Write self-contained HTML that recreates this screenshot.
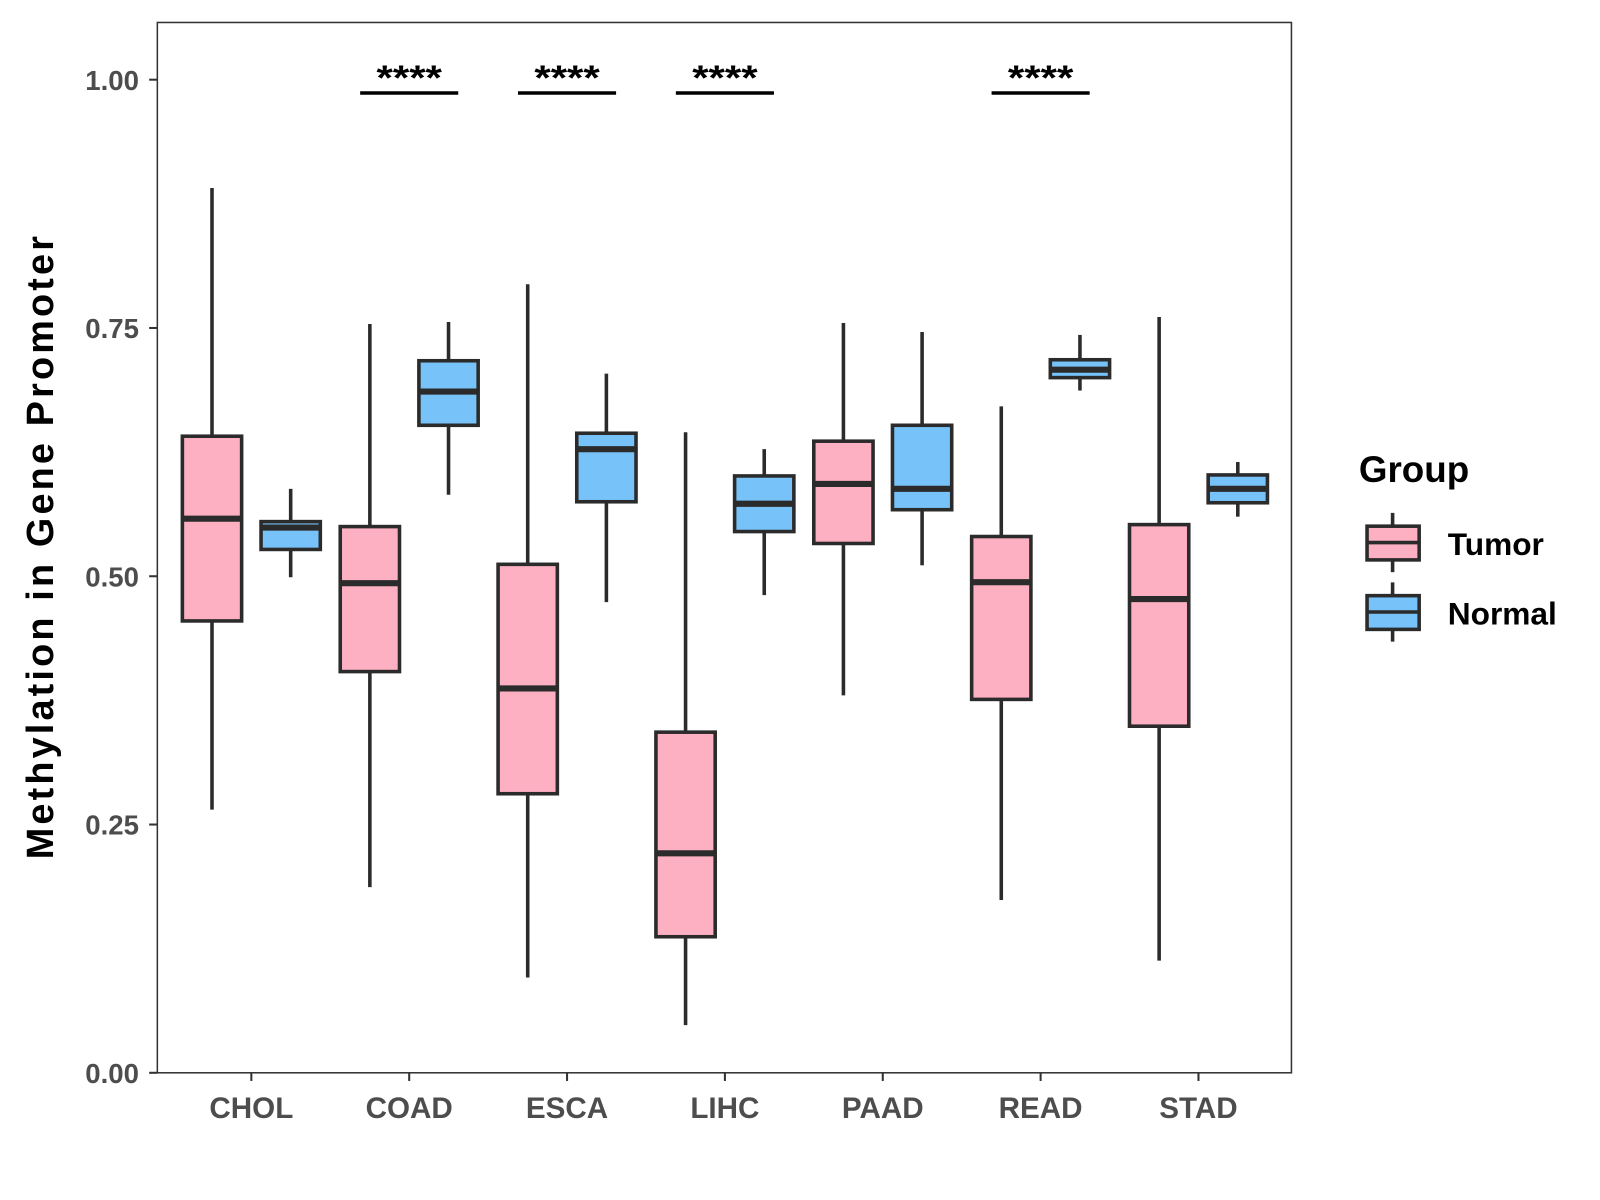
<!DOCTYPE html>
<html><head><meta charset="utf-8"><style>
html,body{margin:0;padding:0;background:#fff;width:1600px;height:1200px;overflow:hidden}
svg text{font-family:"Liberation Sans",Arial,sans-serif;font-weight:bold}
</style></head><body>
<svg id="chart" width="1600" height="1200" viewBox="0 0 1566 1174.5" preserveAspectRatio="none" xmlns="http://www.w3.org/2000/svg">
<rect x="154" y="22" width="1110" height="1028" fill="#fff" stroke="#333" stroke-width="1.5"/>
<g id="axes"></g><g id="marks"></g><g id="sig"></g>
<text x="52" y="536" font-size="37" fill="#000" text-anchor="middle" transform="rotate(-90 52 536)" textLength="610">Methylation in Gene Promoter</text>
<g>
<text x="1330" y="472" font-size="36" fill="#000">Group</text>
<g>
<line x1="1363" y1="502" x2="1363" y2="560" stroke="#2b2b2b" stroke-width="3.5"/>
<rect x="1338" y="515" width="51" height="33" fill="#FDB0C2" stroke="#2b2b2b" stroke-width="3.5"/>
<line x1="1338" y1="531" x2="1389" y2="531" stroke="#2b2b2b" stroke-width="3.5"/>
<text x="1417" y="543" font-size="31" fill="#000">Tumor</text></g>
<g>
<line x1="1363" y1="570" x2="1363" y2="628" stroke="#2b2b2b" stroke-width="3.5"/>
<rect x="1338" y="583" width="51" height="33" fill="#77C2F9" stroke="#2b2b2b" stroke-width="3.5"/>
<line x1="1338" y1="599" x2="1389" y2="599" stroke="#2b2b2b" stroke-width="3.5"/>
<text x="1417" y="611" font-size="31" fill="#000">Normal</text></g>
</g>
</svg>
<script>
const categories=["CHOL","COAD","ESCA","LIHC","PAAD","READ","STAD"];
// [lower whisker, Q1, median, Q3, upper whisker]
const tumorStats=[[0.265,0.455,0.558,0.641,0.891],[0.187,0.404,0.493,0.550,0.754],[0.096,0.281,0.387,0.512,0.794],[0.048,0.137,0.221,0.343,0.645],[0.380,0.533,0.593,0.636,0.755],[0.174,0.376,0.494,0.540,0.671],[0.113,0.349,0.477,0.552,0.761]];
const normalStats=[[0.499,0.527,0.549,0.555,0.588],[0.582,0.652,0.686,0.717,0.756],[0.474,0.575,0.628,0.644,0.704],[0.481,0.545,0.573,0.601,0.628],[0.511,0.567,0.588,0.652,0.746],[0.687,0.700,0.708,0.718,0.743],[0.560,0.574,0.588,0.602,0.615]];
const significant=["COAD","ESCA","LIHC","READ"];
const yTicks=[0,0.25,0.5,0.75,1.0];
const yTickLabels=["0.00","0.25","0.50","0.75","1.00"];
const NS="http://www.w3.org/2000/svg";
const y=v=>1050-v*972;
const x=i=>246+i*154.5;
function mk(t,a,p){const e=document.createElementNS(NS,t);for(const k in a)e.setAttribute(k,a[k]);p.appendChild(e);return e;}
const axes=document.getElementById('axes'),marks=document.getElementById('marks'),sig=document.getElementById('sig');
yTicks.forEach((v,i)=>{
 const l=mk('line',{x1:146,x2:154,y1:y(v),y2:y(v),stroke:'#333','stroke-width':2},axes);
 
 
 const t=mk('text',{x:136,y:y(v)+10,'font-size':27,fill:'#4d4d4d','text-anchor':'end'},axes);t.textContent=yTickLabels[i];
 
 
});
categories.forEach((c,i)=>{
 const l=mk('line',{x1:x(i),x2:x(i),y1:1050,y2:1058,stroke:'#333','stroke-width':2},axes);
 
 
 const t=mk('text',{x:x(i),y:1094,'font-size':29,fill:'#4d4d4d','text-anchor':'middle'},axes);t.textContent=c;
 
 
 [[tumorStats[i],-38.5,'#FDB0C2','tumor'],[normalStats[i],38.5,'#77C2F9','normal']].forEach(([s,off,col,g])=>{
  const cx=x(i)+off,w=58;
  const grp=mk('g',{},marks);
  
  
  mk('line',{x1:cx,x2:cx,y1:y(s[0]),y2:y(s[1]),stroke:'#2b2b2b','stroke-width':3.5},grp);
  mk('line',{x1:cx,x2:cx,y1:y(s[3]),y2:y(s[4]),stroke:'#2b2b2b','stroke-width':3.5},grp);
  mk('rect',{x:cx-w/2,y:y(s[3]),width:w,height:y(s[1])-y(s[3]),fill:col,stroke:'#2b2b2b','stroke-width':3.5},grp);
  mk('line',{x1:cx-w/2,x2:cx+w/2,y1:y(s[2]),y2:y(s[2]),stroke:'#2b2b2b','stroke-width':6},grp);
 });
 if(significant.includes(c)){
  const l2=mk('line',{x1:x(i)-48,x2:x(i)+48,y1:91,y2:91,stroke:'#000','stroke-width':3.5},sig);
  
  
  const t2=mk('text',{x:x(i),y:88,'font-size':34,fill:'#000','text-anchor':'middle',textLength:64,lengthAdjust:'spacingAndGlyphs'},sig);t2.textContent='****';
  
  
 }
});
</script>
</body></html>
